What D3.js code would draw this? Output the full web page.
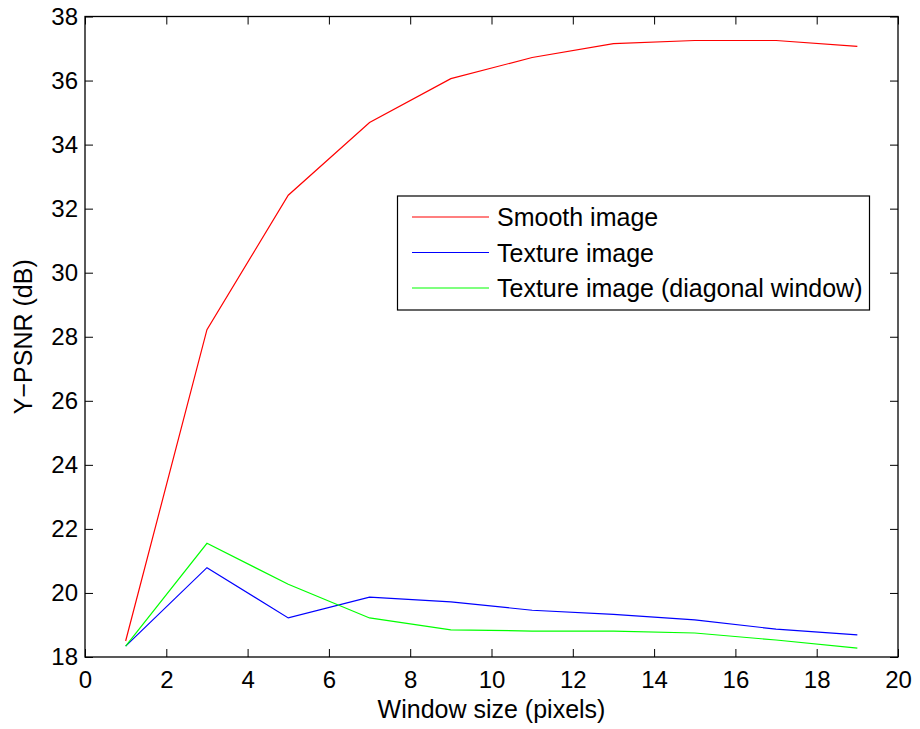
<!DOCTYPE html>
<html><head><meta charset="utf-8">
<script src="https://cdn.jsdelivr.net/npm/d3@7"></script>
<style>body{margin:0;background:#fff}svg{display:block}text{font-family:"Liberation Sans",Arial,sans-serif;fill:#000}</style>
</head><body>
<svg id="c" width="920" height="729"></svg>
<script>
const windowSizes = [1,3,5,7,9,11,13,15,17,19];
const smooth = [18.5,28.22,32.42,34.69,36.06,36.72,37.15,37.25,37.25,37.07];
const texture = [18.34,20.79,19.22,19.87,19.72,19.46,19.33,19.16,18.87,18.69];
const textureDiag = [18.34,21.55,20.27,19.22,18.85,18.81,18.81,18.75,18.53,18.28];
const xTicks = [0,2,4,6,8,10,12,14,16,18,20];
const yTicks = [18,20,22,24,26,28,30,32,34,36,38];
const seriesNames = ["Smooth image","Texture image","Texture image (diagonal window)"];
const seriesColors = ["#ff0000","#0000ff","#00ff00"];
const seriesData = [smooth, texture, textureDiag];

const svg = d3.select("#c");
const L=85, R=898, T=16.5, B=657;
const x = d3.scaleLinear().domain([0,20]).range([L,R]);
const y = d3.scaleLinear().domain([18,38]).range([B,T]);
const fs = 24, tl = 8;

const g = svg.append("g");
const ax = (axis, tr) => {
  const a = g.append("g").attr("transform", tr).call(axis);
  a.select(".domain").remove();
  a.selectAll("line").attr("stroke","#000");
  a.selectAll("text").attr("font-size",fs).style("font-family",'"Liberation Sans",Arial,sans-serif');
  return a;
};
const xb = ax(d3.axisBottom(x).tickValues(xTicks).tickSizeInner(-tl).tickSizeOuter(0).tickPadding(0), `translate(0,${B})`);
xb.selectAll("text").attr("dy",null).attr("y",31);
ax(d3.axisTop(x).tickValues(xTicks).tickSizeInner(-tl).tickSizeOuter(0).tickFormat(""), `translate(0,${T})`);
ax(d3.axisLeft(y).tickValues(yTicks).tickSizeInner(-tl).tickSizeOuter(0).tickPadding(7), `translate(${L},0)`);
ax(d3.axisRight(y).tickValues(yTicks).tickSizeInner(-tl).tickSizeOuter(0).tickFormat(""), `translate(${R},0)`);
g.append("rect").attr("x",L).attr("y",T).attr("width",R-L).attr("height",B-T)
  .attr("fill","none").attr("stroke","#000").attr("stroke-width",1.3);

const line = d3.line().x((d,i)=>x(windowSizes[i])).y(d=>y(d));
seriesData.forEach((s,k)=>{
  g.append("path").datum(s).attr("d",line).attr("fill","none")
   .attr("stroke",seriesColors[k]).attr("stroke-width",1.2);
});

g.append("text").attr("x",(L+R)/2).attr("y",718).attr("text-anchor","middle")
  .attr("font-size",25).text("Window size (pixels)");
g.append("text").attr("transform",`translate(32,${(T+B)/2}) rotate(-90)`).attr("text-anchor","middle")
  .attr("font-size",25).text("Y\u2212PSNR (dB)");

const lg = g.append("g");
lg.append("rect").attr("x",397.5).attr("y",196).attr("width",472).attr("height",114)
  .attr("fill","#fff").attr("stroke","#000").attr("stroke-width",1.2);
const rows=[217,252.5,288];
seriesNames.forEach((n,k)=>{
  lg.append("line").attr("x1",412).attr("x2",489).attr("y1",rows[k]).attr("y2",rows[k])
    .attr("stroke",seriesColors[k]).attr("stroke-width",1.2);
  lg.append("text").attr("x",497).attr("y",rows[k]).attr("dy","0.36em").attr("font-size",25).text(n);
});
</script>
</body></html>
